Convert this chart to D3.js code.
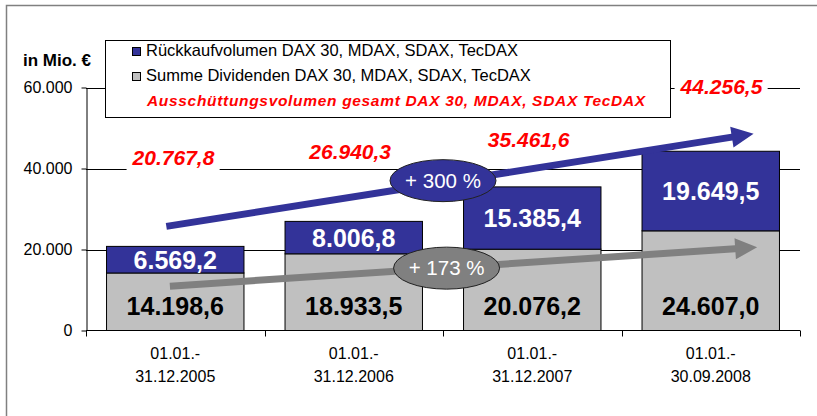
<!DOCTYPE html>
<html>
<head>
<meta charset="utf-8">
<script src="https://cdn.jsdelivr.net/npm/d3@7"></script>
<style>
  html, body { margin: 0; padding: 0; background: #fff; }
  svg { display: block; font-family: Arial, "Liberation Sans", sans-serif; }
</style>
</head>
<body>
<svg id="chart" width="817" height="416"></svg>
<script>
// ---- data ----
const categories = ["2005", "2006", "2007", "2008"];
const categoryLabels = [
  ["01.01.-", "31.12.2005"],
  ["01.01.-", "31.12.2006"],
  ["01.01.-", "31.12.2007"],
  ["01.01.-", "30.09.2008"]
];
const dividends = [14198.6, 18933.5, 20076.2, 24607.0];   // Summe Dividenden
const buybacks  = [6569.2, 8006.8, 15385.4, 19649.5];     // Rückkaufvolumen
const yTicks = [0, 20000, 40000, 60000];
const unitLabel = "in Mio. €";
const legendLabels = [
  "Rückkaufvolumen DAX 30, MDAX, SDAX, TecDAX",
  "Summe Dividenden DAX 30, MDAX, SDAX, TecDAX",
  "Ausschüttungsvolumen gesamt DAX 30, MDAX, SDAX TecDAX"
];
const growthLabels = ["+ 300 %", "+ 173 %"];

// ---- annotation layout (category-index units, value units) ----
const totalLabelX = [-0.01, -0.02, -0.02, 0.06];
const totalLabelY = [40960, 42440, 45390, 58430];
const buybackArrow = { from: [-0.05, 25700], to: [3.24, 48600] };
const dividendArrow = { from: [-0.03, 10950], to: [3.26, 20540] };
const buybackBubble = [1.5, 37000];
const dividendBubble = [1.52, 15400];

const colBlue = "#333399", colGrey = "#C0C0C0", colArrowGrey = "#808080", colRed = "#FF0000";

const de = d3.formatLocale({ decimal: ",", thousands: ".", grouping: [3], currency: ["", " €"] });
const fmtTick = de.format(",");
const fmtVal = de.format(",.1f");

const svg = d3.select("#chart");

// outer frame
svg.append("path").attr("d", "M6.5,420 V5.5 H820")
  .attr("fill", "none").attr("stroke", "#808080").attr("stroke-width", 1.5);

const left = 86, right = 800;
const x = d3.scaleBand().domain(categories).range([left, right]).paddingInner(0.23).paddingOuter(0.115);
const y = d3.scaleLinear().domain([0, 60000]).range([330.5, 87.5]);
const xc = i => x(categories[0]) + x.bandwidth() / 2 + i * x.step();

// gridlines
svg.append("g").selectAll("line").data(yTicks.filter(d => d > 0)).join("line")
  .attr("x1", left).attr("x2", right)
  .attr("y1", d => Math.round(y(d)) + 0.5).attr("y2", d => Math.round(y(d)) + 0.5)
  .attr("stroke", "#000").attr("stroke-width", 1);

// y axis
const yAxis = d3.axisLeft(y).tickValues(yTicks).tickFormat(fmtTick).tickSize(5).tickSizeOuter(0).tickPadding(9);
const gy = svg.append("g").attr("transform", `translate(${left + 0.5},0)`).call(yAxis);
gy.selectAll("text").attr("font-size", 16).attr("font-family", "Arial, 'Liberation Sans', sans-serif").attr("fill", "#000");
gy.selectAll("line, path").attr("stroke", "#000");

// x axis
const gx = svg.append("g").attr("transform", `translate(0,${y(0)})`);
gx.append("line").attr("x1", left).attr("x2", right).attr("stroke", "#000");
const bounds = d3.range(categories.length + 1).map(i => left + i * x.step());
gx.selectAll("line.tk").data(bounds).join("line").attr("class", "tk")
  .attr("x1", d => Math.round(d) + 0.5).attr("x2", d => Math.round(d) + 0.5)
  .attr("y1", 0).attr("y2", 6).attr("stroke", "#000");
const ct = gx.selectAll("text").data(categories).join("text")
  .attr("text-anchor", "middle").attr("font-size", 16).attr("fill", "#000");
ct.each(function (d, i) {
  const t = d3.select(this);
  categoryLabels[i].forEach((s, k) => {
    t.append("tspan").attr("x", x(d) + x.bandwidth() / 2).attr("y", 28.5 + k * 23).text(s);
  });
});

// bars
const gb = svg.append("g");
gb.selectAll("rect.div").data(categories).join("rect").attr("class", "div")
  .attr("x", d => x(d)).attr("width", x.bandwidth())
  .attr("y", (d, i) => y(dividends[i])).attr("height", (d, i) => y(0) - y(dividends[i]))
  .attr("fill", colGrey).attr("stroke", "#000").attr("stroke-width", 1);
gb.selectAll("rect.buy").data(categories).join("rect").attr("class", "buy")
  .attr("x", d => x(d)).attr("width", x.bandwidth())
  .attr("y", (d, i) => y(dividends[i] + buybacks[i])).attr("height", (d, i) => y(dividends[i]) - y(dividends[i] + buybacks[i]))
  .attr("fill", colBlue).attr("stroke", "#000").attr("stroke-width", 1);

// value labels
gb.selectAll("text.dv").data(categories).join("text").attr("class", "dv")
  .attr("x", d => x(d) + x.bandwidth() / 2).attr("y", y(0) - 15.5)
  .attr("text-anchor", "middle").attr("font-size", 25).attr("font-weight", "bold").attr("fill", "#000")
  .text((d, i) => fmtVal(dividends[i]));
gb.selectAll("text.bv").data(categories).join("text").attr("class", "bv")
  .attr("x", d => x(d) + x.bandwidth() / 2)
  .attr("y", (d, i) => (y(dividends[i]) + y(dividends[i] + buybacks[i])) / 2 + 9)
  .attr("text-anchor", "middle").attr("font-size", 25).attr("font-weight", "bold").attr("fill", "#fff")
  .text((d, i) => fmtVal(buybacks[i]));

// arrows
function arrowPath(a, w, hl, hw) {
  const x1 = xc(a.from[0]), y1 = y(a.from[1]), x2 = xc(a.to[0]), y2 = y(a.to[1]);
  const dx = x2 - x1, dy = y2 - y1, L = Math.hypot(dx, dy);
  const ux = dx / L, uy = dy / L, nx = -uy, ny = ux;
  const bx = x2 - ux * hl, by = y2 - uy * hl;
  const p = [
    [x1 + nx * w / 2, y1 + ny * w / 2],
    [bx + nx * w / 2, by + ny * w / 2],
    [bx + nx * hw / 2, by + ny * hw / 2],
    [x2, y2],
    [bx - nx * hw / 2, by - ny * hw / 2],
    [bx - nx * w / 2, by - ny * w / 2],
    [x1 - nx * w / 2, y1 - ny * w / 2]
  ];
  return "M" + p.map(q => q.join(",")).join("L") + "Z";
}
svg.append("path").attr("d", arrowPath(buybackArrow, 7, 22, 21)).attr("fill", colBlue);
svg.append("path").attr("d", arrowPath(dividendArrow, 7, 22, 21)).attr("fill", colArrowGrey);

// bubbles
[[buybackBubble, colBlue, growthLabels[0]], [dividendBubble, colArrowGrey, growthLabels[1]]].forEach(([b, c, t]) => {
  svg.append("ellipse").attr("cx", xc(b[0])).attr("cy", y(b[1])).attr("rx", 53).attr("ry", 21)
    .attr("fill", c).attr("stroke", "#222").attr("stroke-width", 1);
  svg.append("text").attr("x", xc(b[0])).attr("y", y(b[1]) + 7).attr("text-anchor", "middle")
    .attr("font-size", 20.5).attr("fill", "#fff").text(t);
});

// total labels
const totals = categories.map((d, i) => dividends[i] + buybacks[i]);
const gt = svg.append("g");
totals.forEach((v, i) => {
  const g = gt.append("g");
  const r = g.append("rect").attr("fill", "#fff");
  const t = g.append("text").attr("x", xc(i + totalLabelX[i])).attr("y", y(totalLabelY[i]))
    .attr("text-anchor", "middle").attr("font-size", 21).attr("font-weight", "bold").attr("font-style", "italic")
    .attr("fill", colRed).text(fmtVal(v));
  const bb = t.node().getBBox();
  r.attr("x", bb.x - 5).attr("y", bb.y - 2).attr("width", bb.width + 10).attr("height", bb.height + 4);
});

// unit label
svg.append("text").attr("x", 23).attr("y", 66).attr("font-size", 17).attr("font-weight", "bold").text(unitLabel);

// legend
const lg = svg.append("g");
lg.append("rect").attr("x", 105.5).attr("y", 40.5).attr("width", 565).attr("height", 77)
  .attr("fill", "#fff").attr("stroke", "#000").attr("stroke-width", 1);
[[colBlue, 56], [colGrey, 81]].forEach(([c, by], k) => {
  lg.append("rect").attr("x", 132.5).attr("y", by - 8.5).attr("width", 8).attr("height", 8)
    .attr("fill", c).attr("stroke", "#000").attr("stroke-width", 1);
  lg.append("text").attr("x", 146).attr("y", by).attr("font-size", 16.5).attr("fill", "#000").text(legendLabels[k]);
});
lg.append("text").attr("x", 147).attr("y", 106).attr("font-size", 15.5).attr("font-weight", "bold")
  .attr("font-style", "italic").attr("letter-spacing", 0.68).attr("fill", colRed).text(legendLabels[2]);
</script>
</body>
</html>
